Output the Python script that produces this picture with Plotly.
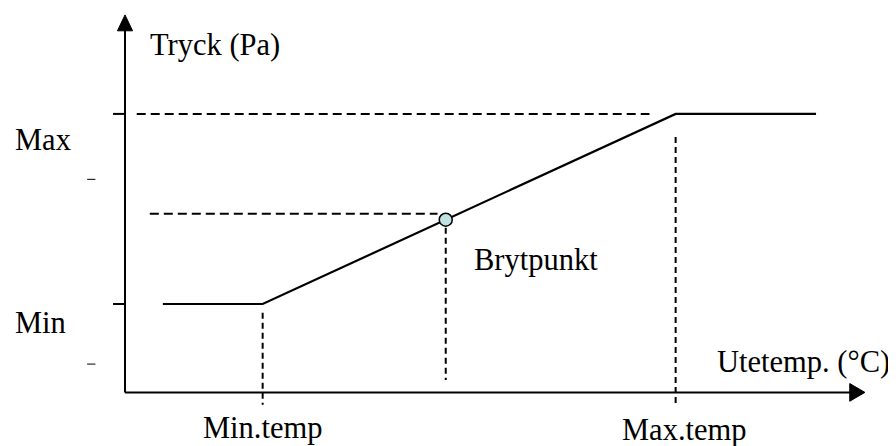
import plotly.graph_objects as go

# ---- data (conceptual units) ----
temp_line = [0.55, 2.0, 8.0, 10.04]          # outdoor temperature points of the curve
pres_line = [1.0, 1.0, 3.15, 3.15]           # pressure at those points
min_temp, max_temp = 2.0, 8.0
p_min, p_max = 1.0, 3.15
bp_temp = 4.66
bp_pres = p_min + (bp_temp - min_temp) / (max_temp - min_temp) * (p_max - p_min)
bp_guide = 2.02
y_labels = ["Max", "Min"]
x_labels = ["Min.temp", "Max.temp"]

# axis extents
x_axis_end = 10.75
y_axis_end = 4.27

# ranges (account for the page's 8px body margin)
XR = [-1.700, 11.318]
YR = [-0.697, 4.348]

fig = go.Figure()
BLACK = "#000000"
FONT = "Liberation Serif, Times New Roman, serif"

def seg(x, y, dash=None, width=2):
    fig.add_trace(go.Scatter(x=x, y=y, mode="lines",
                             line=dict(color=BLACK, width=width, dash=dash),
                             hoverinfo="skip", showlegend=False))

# axes
seg([0, x_axis_end - 0.2], [0, 0])
seg([0, 0], [0, y_axis_end - 0.15])
# arrowheads
fig.add_trace(go.Scatter(x=[x_axis_end - 0.22, x_axis_end, x_axis_end - 0.22, x_axis_end - 0.22],
                         y=[0.1, 0, -0.1, 0.1], mode="lines", fill="toself",
                         fillcolor=BLACK, line=dict(color=BLACK, width=1),
                         hoverinfo="skip", showlegend=False))
fig.add_trace(go.Scatter(x=[-0.11, 0, 0.11, -0.11],
                         y=[y_axis_end - 0.18, y_axis_end, y_axis_end - 0.18, y_axis_end - 0.18],
                         mode="lines", fill="toself", fillcolor=BLACK,
                         line=dict(color=BLACK, width=1),
                         hoverinfo="skip", showlegend=False))
# y ticks
seg([-0.174, 0], [p_max, p_max])
seg([-0.174, 0], [p_min, p_min])
# small stray dashes
seg([-0.55, -0.43], [2.41, 2.41], width=1)
seg([-0.55, -0.43], [0.32, 0.32], width=1)

# dashed guides
seg([0.17, 7.62], [p_max, p_max], dash="9px,5px")
seg([0.36, bp_temp - 0.12], [bp_guide, bp_guide], dash="9px,5px")
seg([min_temp, min_temp], [0.90, -0.14], dash="6px,4px")
seg([max_temp, max_temp], [2.89, -0.14], dash="6px,4px")
seg([bp_temp, bp_temp], [bp_pres - 0.09, 0.14], dash="6px,4px")

# main curve
seg(temp_line, pres_line, width=2.2)

# breakpoint marker
fig.add_trace(go.Scatter(x=[bp_temp], y=[bp_pres], mode="markers",
                         marker=dict(size=13, color="#bfe2e2",
                                     line=dict(color=BLACK, width=1.5)),
                         hoverinfo="skip", showlegend=False))

def label(text, x, y, xanchor="left"):
    fig.add_annotation(x=x, y=y, text=text, showarrow=False, xanchor=xanchor,
                       yanchor="middle", font=dict(family=FONT, size=30.5, color=BLACK))

label("Tryck (Pa)", 0.33, 3.93)
label(y_labels[0], -1.63, 2.856)
label(y_labels[1], -1.63, 0.785)
label("Brytpunkt", 5.04, 1.50)
label("Utetemp. (°C)", 8.57, 0.344)
label(x_labels[0], min_temp, -0.40, "center")
label(x_labels[1], 8.13, -0.43, "center")

fig.update_layout(width=896, height=446, margin=dict(l=0, r=0, t=0, b=0),
                  paper_bgcolor="white", plot_bgcolor="white",
                  xaxis=dict(range=XR, visible=False, fixedrange=True),
                  yaxis=dict(range=YR, visible=False, fixedrange=True))
fig.write_html("out.html")
